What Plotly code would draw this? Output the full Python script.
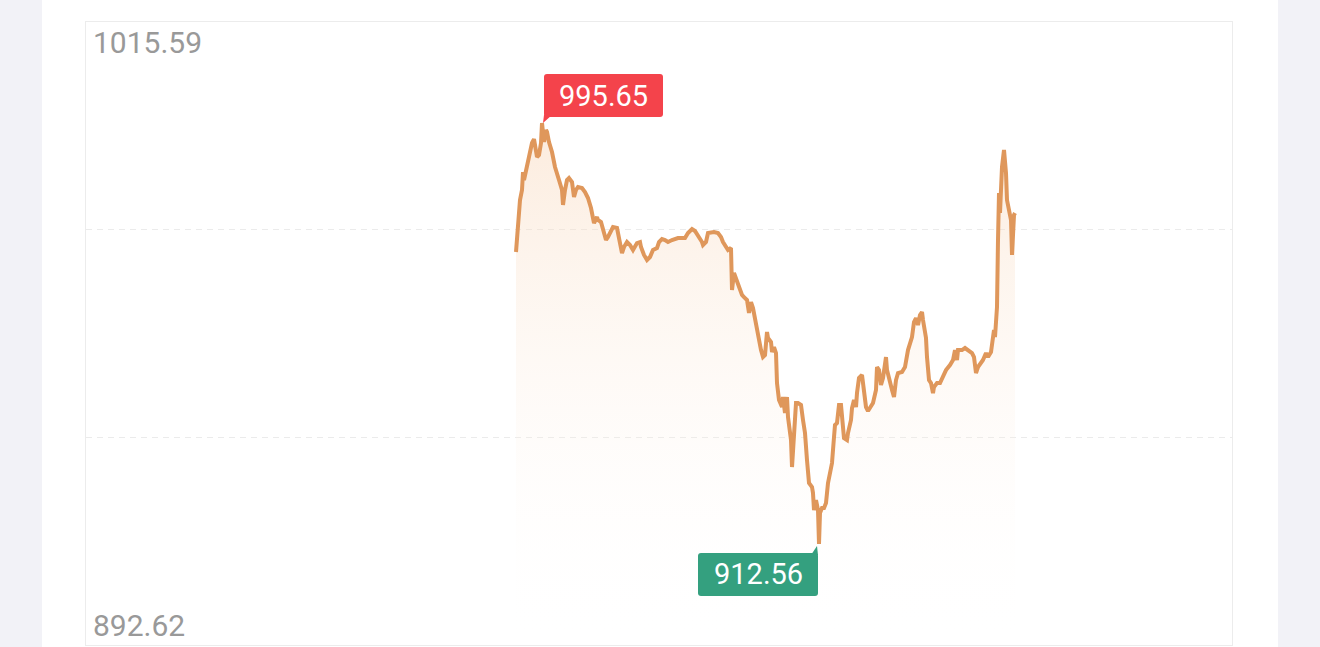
import numpy as np
import plotly.graph_objects as go

# ---- data (time index along the session, price) ----
T = [430, 431, 432, 434, 436, 437, 438, 439, 442, 444, 446, 448, 450, 451, 453, 455, 456, 458, 460, 461,
     463, 466, 469, 471, 473, 476, 477, 479, 481, 483, 486, 488, 490, 492, 496, 499, 502, 505, 506, 508,
     511, 512, 515, 517, 520, 522, 525, 527, 531, 534, 536, 538, 541, 544, 547, 551, 554, 555, 558, 561,
     564, 567, 571, 573, 576, 579, 582, 586, 589, 592, 596, 599, 602, 606, 609, 612, 616, 617, 620, 622,
     625, 628, 632, 635, 637, 640, 642, 645, 646, 648, 651, 653, 656, 658, 661, 663, 665, 667, 670, 672,
     675, 677, 679, 681, 682, 685, 686, 688, 690, 691, 693, 696, 697, 699, 701, 702, 705, 706, 708, 710,
     712, 715, 717, 719, 721, 723, 726, 727, 728, 730, 732, 733, 734, 736, 738, 740, 742, 744, 746, 748,
     749, 751, 753, 755, 757, 758, 761, 762, 765, 766, 768, 770, 771, 773, 776, 778, 780, 782, 785, 787,
     790, 791, 793, 795, 797, 800, 801, 803, 806, 808, 810, 812, 816, 819, 822, 826, 828, 830, 832, 834,
     836, 837, 840, 841, 843, 845, 847, 848, 851, 854, 857, 860, 864, 867, 869, 871, 872, 876, 879, 882,
     886, 888, 890, 892, 895, 897, 900, 902, 905, 907, 908, 909, 911, 912, 913, 914, 915, 916, 918, 920,
     921, 923, 925, 926, 927, 928, 929]

V = [970.19, 973.54, 973.94, 980.45, 982.43, 985.98, 984.40, 985.39, 987.76, 989.73, 991.70, 992.49, 989.73, 988.94, 989.34, 991.70, 995.65, 991.90, 994.27, 993.88,
     991.90, 989.93, 986.97, 985.39, 984.40, 982.43, 979.47, 982.43, 984.40, 984.80, 984.01, 981.04, 982.43, 983.02, 982.82, 982.03, 980.85, 978.87, 977.49, 975.91,
     977.10, 976.50, 976.11, 974.93, 972.56, 973.15, 974.53, 975.12, 974.93, 971.96, 969.99, 971.17, 972.16, 971.57, 970.58, 971.96, 972.16, 971.17, 969.60, 968.61,
     969.20, 970.58, 970.98, 972.16, 972.75, 972.56, 972.16, 972.56, 972.75, 972.95, 972.95, 972.95, 973.94, 974.73, 974.33, 973.54, 972.16, 971.57, 972.16, 973.94,
     974.14, 974.14, 973.94, 973.15, 972.16, 971.17, 970.58, 970.98, 962.69, 966.04, 964.27, 963.08, 961.70, 961.30, 960.71, 958.15, 960.32, 959.13, 955.78, 953.21,
     950.84, 949.46, 949.86, 954.40, 953.21, 952.42, 950.45, 951.43, 950.25, 944.33, 940.97, 939.59, 941.56, 938.41, 941.56, 937.62, 933.08, 927.75, 935.05, 940.38,
     940.38, 939.99, 937.02, 934.46, 929.13, 924.59, 923.80, 922.61, 919.26, 921.23, 919.26, 912.56, 918.67, 919.65, 919.65, 920.64, 924.59, 927.15, 928.54, 933.67,
     936.04, 936.43, 939.99, 939.99, 936.63, 933.47, 933.08, 934.46, 937.02, 939.39, 940.97, 939.59, 942.35, 945.32, 945.91, 942.95, 939.59, 938.80, 939.59, 940.38,
     942.95, 947.49, 946.89, 943.93, 945.32, 949.46, 946.89, 944.92, 942.95, 941.56, 944.92, 946.30, 946.50, 947.49, 950.84, 953.41, 956.37, 957.16, 955.78, 957.75,
     958.34, 956.76, 953.21, 949.46, 944.92, 944.33, 942.35, 943.54, 944.33, 944.33, 945.51, 946.89, 947.88, 948.87, 950.84, 948.87, 950.84, 950.84, 951.24, 950.84,
     950.25, 949.46, 946.30, 947.49, 948.47, 948.87, 950.25, 949.46, 950.45, 953.21, 954.79, 953.41, 959.33, 972.56, 981.83, 977.89, 982.43, 986.97, 990.32, 985.78,
     980.45, 977.89, 976.50, 969.60, 973.94, 977.49, 977.89]

Y_MIN = 892.62
Y_MAX = 1015.59
X_RANGE = [0, 1146]
Y_LABELS = ["1015.59", "892.62"]

LINE_COLOR = "#df975b"
RED = "#f4434b"
GREEN = "#34a07f"
GRAY_TEXT = "#999999"
FONT = "Roboto, 'Noto Sans', sans-serif"

i_max = int(np.argmax(V))
i_min = int(np.argmin(V))


def rounded_box(x0, x1, y0, y1, r=3):
    """Pixel-offset rounded rectangle path (y up)."""
    return (f"M {x0 + r} {y0} L {x1 - r} {y0} Q {x1} {y0} {x1} {y0 + r} "
            f"L {x1} {y1 - r} Q {x1} {y1} {x1 - r} {y1} L {x0 + r} {y1} "
            f"Q {x0} {y1} {x0} {y1 - r} L {x0} {y0 + r} Q {x0} {y0} {x0 + r} {y0} Z")


def pix_shape(path, xa, ya, color):
    return dict(type="path", xref="x", yref="y", xsizemode="pixel", ysizemode="pixel",
                xanchor=xa, yanchor=ya, path=path, fillcolor=color, line=dict(width=0),
                layer="above")


fig = go.Figure()
fig.add_trace(go.Scatter(
    x=T, y=V, mode="lines",
    line=dict(color=LINE_COLOR, width=4),
    fill="tozeroy",
    fillgradient=dict(
        type="vertical",
        colorscale=[[0, "rgba(255,255,255,0)"], [1, "rgba(248,214,184,0.48)"]],
        start=Y_MIN, stop=V[i_max],
    ),
    hoverinfo="skip", showlegend=False,
))

grid_vals = list(np.linspace(Y_MIN, Y_MAX, 4)[1:3])

fig.update_layout(
    width=1320, height=647,
    margin=dict(l=86, r=88, t=22, b=2),
    paper_bgcolor="#f2f2f7",
    plot_bgcolor="white",
    showlegend=False,
    hovermode=False,
    xaxis=dict(range=X_RANGE, showgrid=False, zeroline=False, showticklabels=False,
               showline=True, mirror=True, linecolor="#ececec", linewidth=1, ticks=""),
    yaxis=dict(range=[Y_MIN, Y_MAX], zeroline=False, showticklabels=False,
               tickvals=grid_vals, showgrid=True, gridcolor="#ebebeb", griddash="6px,5px",
               gridwidth=1, showline=True, mirror=True, linecolor="#ececec", linewidth=1, ticks=""),
    shapes=[
        # white panel
        dict(type="rect", xref="paper", yref="paper", x0=-44 / 1146, x1=1192 / 1146,
             y0=-0.2, y1=1.2, fillcolor="white", line=dict(width=0), layer="below"),
        # red label box + tail
        pix_shape(rounded_box(2, 121, 6, 49), T[i_max], V[i_max], RED),
        pix_shape("M 2 8 L 10 8 L 1 0 Z", T[i_max], V[i_max], RED),
        # green label box + tail
        pix_shape(rounded_box(-121, -1, -52, -9), T[i_min], V[i_min], GREEN),
        pix_shape("M -1 -11 L -8 -11 L -2 -2 Z", T[i_min], V[i_min], GREEN),
    ],
    annotations=[
        dict(text=Y_LABELS[0], xref="paper", yref="paper", x=0, y=1, xanchor="left", yanchor="top",
             xshift=5, yshift=-1, showarrow=False, font=dict(family=FONT, size=30, color=GRAY_TEXT)),
        dict(text=Y_LABELS[1], xref="paper", yref="paper", x=0, y=0, xanchor="left", yanchor="bottom",
             xshift=5, yshift=0, showarrow=False, font=dict(family=FONT, size=30, color=GRAY_TEXT)),
        dict(text=f"{V[i_max]:.2f}", xref="x", yref="y", x=T[i_max], y=V[i_max],
             xanchor="center", yanchor="middle", xshift=61.5, yshift=27.5, showarrow=False,
             font=dict(family=FONT, size=29, color="white")),
        dict(text=f"{V[i_min]:.2f}", xref="x", yref="y", x=T[i_min], y=V[i_min],
             xanchor="center", yanchor="middle", xshift=-61, yshift=-30.5, showarrow=False,
             font=dict(family=FONT, size=29, color="white")),
    ],
)

fig.write_html(
    "out.html",
    config={"displayModeBar": False, "staticPlot": True},
    post_script="document.body.style.margin='0';document.body.style.overflow='hidden';",
)
